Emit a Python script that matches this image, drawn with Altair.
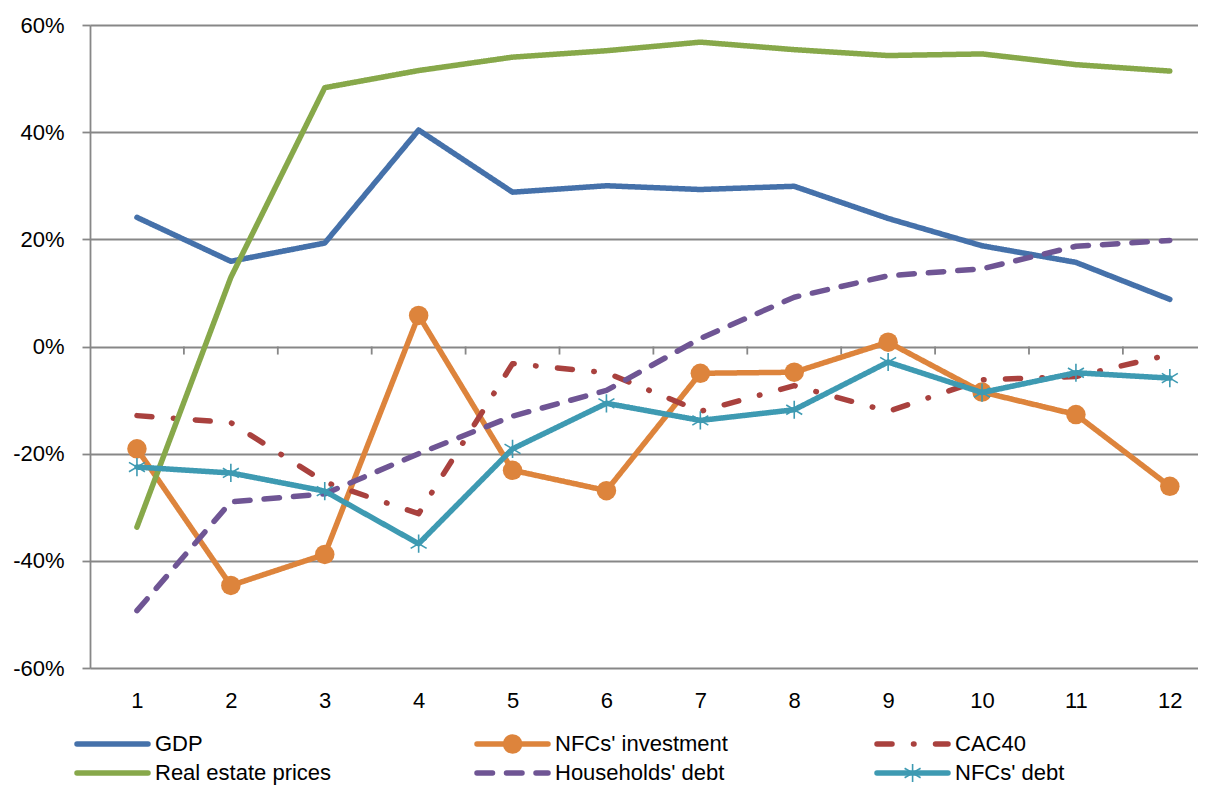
import altair as alt
import pandas as pd

# ---------------- data ----------------
periods = list(range(1, 13))
series_names = ["GDP", "NFCs' investment", "CAC40",
                "Real estate prices", "Households' debt", "NFCs' debt"]

gdp = [24.1, 15.9, 19.3, 40.4, 28.8, 30.0, 29.3, 29.9, 23.9, 18.8, 15.7, 8.8]
nfc_investment = [-19.1, -44.6, -38.8, 5.8, -23.1, -26.9, -5.0, -4.8, 0.8, -8.5, -12.7, -26.1]
cac40 = [-12.9, -14.2, -25.3, -31.2, -3.2, -4.9, -12.1, -7.3, -12.1, -6.2, -5.6, -1.5]
real_estate = [-33.7, 12.9, 48.3, 51.5, 54.0, 55.2, 56.8, 55.4, 54.3, 54.6, 52.6, 51.4]
households_debt = [-49.3, -29.0, -27.5, -20.0, -13.0, -8.2, 1.5, 9.2, 13.2, 14.5, 18.7, 19.8]
nfc_debt = [-22.5, -23.6, -27.0, -36.8, -19.1, -10.6, -13.8, -11.8, -2.9, -8.6, -4.9, -5.9]

y_ticks = [-0.6, -0.4, -0.2, 0.0, 0.2, 0.4, 0.6]
category_bounds = [1.5, 2.5, 3.5, 4.5, 5.5, 6.5, 7.5, 8.5, 9.5, 10.5, 11.5]

# legend layout: column / row of each entry
legend_cols = [0, 1, 2, 0, 1, 2]
legend_rows = [0, 0, 0, 1, 1, 1]

# ---------------- styles ----------------
series_colors = ["#4571AA", "#DD843C", "#A9413E", "#87A84A", "#6F5594", "#3E9AB2"]
series_dashes = [[1, 0], [1, 0], [15, 21.5, 0.5, 21.5], [1, 0], [15.5, 14], [1, 0]]
LINE_W = 5.5
FONT = "Liberation Sans"
GRID = "#878787"
ASTERISK = "M0,-1L0,1M-0.88,-0.52L0.88,0.52M-0.88,0.52L0.88,-0.52"

all_values = [gdp, nfc_investment, cac40, real_estate, households_debt, nfc_debt]
rows = []
for name, vals in zip(series_names, all_values):
    for p, v in zip(periods, vals):
        rows.append({"period": p, "series": name, "value": v / 100.0})
df = pd.DataFrame(rows)

ticks_df = pd.DataFrame({"period": category_bounds,
                         "value": [0.0] * len(category_bounds),
                         "value2": [-0.015] * len(category_bounds)})

legend_df = pd.DataFrame({"series": series_names, "col": legend_cols, "row": legend_rows})

color_scale = alt.Scale(domain=series_names, range=series_colors)
dash_scale = alt.Scale(domain=series_names, range=series_dashes)

x_enc = alt.X("period:Q",
              scale=alt.Scale(domain=[0.5, 12.3], nice=False, zero=False),
              axis=alt.Axis(values=periods, format="d", grid=False, domain=False,
                            ticks=False, labelPadding=22, labelFontSize=22,
                            labelFont=FONT, labelColor="black", title=None))
y_axis = alt.Axis(values=y_ticks,
                  labelExpr="replace(format(datum.value, '.0%'), '\u2212', '-')",
                  grid=True, gridColor=GRID, gridWidth=1.8,
                  domain=True, domainColor=GRID, domainWidth=1.8,
                  ticks=True, tickColor=GRID, tickWidth=1.8, tickSize=8,
                  labelPadding=18, labelFontSize=22, labelFont=FONT,
                  labelColor="black", title=None)
y_enc = alt.Y("value:Q", scale=alt.Scale(domain=[-0.6, 0.6], nice=False), axis=y_axis)

base = alt.Chart(df)
layers = []
for name in series_names:
    sub = base.transform_filter(alt.datum.series == name)
    layers.append(
        sub.mark_line(strokeWidth=LINE_W, strokeCap="round", strokeJoin="round").encode(
            x=x_enc, y=y_enc,
            color=alt.Color("series:N", scale=color_scale, legend=None),
            strokeDash=alt.StrokeDash("series:N", scale=dash_scale, legend=None),
        )
    )
    if name == "NFCs' investment":
        layers.append(sub.mark_circle(size=380, opacity=1).encode(
            x=x_enc, y=y_enc,
            color=alt.Color("series:N", scale=color_scale, legend=None)))
    if name == "NFCs' debt":
        layers.append(sub.mark_point(shape=ASTERISK, size=330, filled=False,
                                     strokeWidth=1.6, opacity=1).encode(
            x=x_enc, y=y_enc,
            color=alt.Color("series:N", scale=color_scale, legend=None)))

zero_ticks = alt.Chart(ticks_df).mark_rule(color=GRID, strokeWidth=1.8).encode(
    x=x_enc, y=y_enc, y2="value2:Q")

main = alt.layer(zero_ticks, *layers)

# ---------------- legend (own scales) ----------------
lx = alt.Scale(domain=[0, 3], range=[-13, 1187])
ly = alt.Scale(domain=[0, 1], range=[719, 748])
leg = alt.Chart(legend_df).transform_calculate(
    x1="datum.col", x2="datum.col + 0.1775",
    xm="datum.col + 0.089", xt="datum.col + 0.195")

leg_lines = leg.mark_rule(strokeWidth=LINE_W, strokeCap="round").encode(
    x=alt.X("x1:Q", scale=lx, axis=None),
    x2="x2:Q",
    y=alt.Y("row:Q", scale=ly, axis=None),
    color=alt.Color("series:N", scale=color_scale, legend=None),
    strokeDash=alt.StrokeDash("series:N", scale=dash_scale, legend=None),
)
leg_circle = leg.transform_filter(alt.datum.series == "NFCs' investment").mark_circle(
    size=380, opacity=1).encode(
    x=alt.X("xm:Q", scale=lx, axis=None),
    y=alt.Y("row:Q", scale=ly, axis=None),
    color=alt.Color("series:N", scale=color_scale, legend=None))
leg_star = leg.transform_filter(alt.datum.series == "NFCs' debt").mark_point(
    shape=ASTERISK, size=330, filled=False, strokeWidth=1.6, opacity=1).encode(
    x=alt.X("xm:Q", scale=lx, axis=None),
    y=alt.Y("row:Q", scale=ly, axis=None),
    color=alt.Color("series:N", scale=color_scale, legend=None))
leg_text = leg.mark_text(align="left", baseline="middle", fontSize=22,
                         font=FONT, color="black").encode(
    x=alt.X("xt:Q", scale=lx, axis=None),
    y=alt.Y("row:Q", scale=ly, axis=None),
    text="series:N")

legend = alt.layer(leg_lines, leg_circle, leg_star, leg_text)

chart = alt.layer(main, legend).resolve_scale(
    x="independent", y="independent"
).properties(
    width=1108, height=643,
    autosize=alt.AutoSizeParams(type="none"),
    padding={"left": 82, "top": 17, "right": 0, "bottom": 119},
).configure_view(stroke=None).configure(background="white")

chart.save("out.html", embed_options={"renderer": "svg", "actions": False})
